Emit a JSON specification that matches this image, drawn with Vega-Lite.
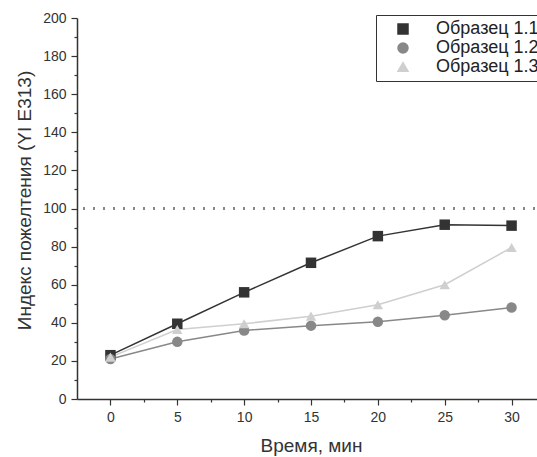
{
  "$schema": "https://vega.github.io/schema/vega-lite/v6.json",
  "width": 468,
  "height": 381,
  "autosize": "none",
  "padding": {"left": 77, "top": 18, "right": 0, "bottom": 58},
  "background": "white",
  "config": {
    "font": "Liberation Sans",
    "view": {"stroke": null},
    "axis": {
      "grid": false,
      "domainColor": "#333333",
      "domainWidth": 1.5,
      "tickColor": "#333333",
      "tickWidth": 1.2,
      "labelColor": "#333333",
      "labelFontSize": 14,
      "titleColor": "#333333",
      "titleFontSize": 19,
      "titleFontWeight": "normal"
    }
  },
  "data": {
    "values": [
      {"t": 0, "yi": 23, "series": "Образец 1.1"},
      {"t": 5, "yi": 39.5, "series": "Образец 1.1"},
      {"t": 10, "yi": 56, "series": "Образец 1.1"},
      {"t": 15, "yi": 71.5, "series": "Образец 1.1"},
      {"t": 20, "yi": 85.5, "series": "Образец 1.1"},
      {"t": 25, "yi": 91.5, "series": "Образец 1.1"},
      {"t": 30, "yi": 91, "series": "Образец 1.1"},
      {"t": 0, "yi": 21, "series": "Образец 1.2"},
      {"t": 5, "yi": 30, "series": "Образец 1.2"},
      {"t": 10, "yi": 36, "series": "Образец 1.2"},
      {"t": 15, "yi": 38.5, "series": "Образец 1.2"},
      {"t": 20, "yi": 40.5, "series": "Образец 1.2"},
      {"t": 25, "yi": 44, "series": "Образец 1.2"},
      {"t": 30, "yi": 48, "series": "Образец 1.2"},
      {"t": 0, "yi": 22, "series": "Образец 1.3"},
      {"t": 5, "yi": 36.5, "series": "Образец 1.3"},
      {"t": 10, "yi": 39.5, "series": "Образец 1.3"},
      {"t": 15, "yi": 43.5, "series": "Образец 1.3"},
      {"t": 20, "yi": 49.5, "series": "Образец 1.3"},
      {"t": 25, "yi": 60, "series": "Образец 1.3"},
      {"t": 30, "yi": 79.5, "series": "Образец 1.3"}
    ]
  },
  "layer": [
    {
      "mark": {"type": "rule", "strokeDash": [2, 8], "color": "#888888", "strokeWidth": 1.5},
      "encoding": {
        "y": {"datum": 100, "type": "quantitative", "scale": {"domain": [0, 200]}, "axis": null}
      }
    },
    {
      "mark": {"type": "line", "strokeWidth": 1.5},
      "encoding": {
        "x": {
          "field": "t", "type": "quantitative",
          "scale": {"domain": [-2.5, 32.5], "nice": false, "zero": false},
          "axis": {
            "orient": "bottom",
            "values": [0, 5, 10, 15, 20, 25, 30],
            "tickSize": 6,
            "labelPadding": 5,
            "title": "Время, мин",
            "titlePadding": 12
          }
        },
        "y": {
          "field": "yi", "type": "quantitative",
          "scale": {"domain": [0, 200], "nice": false},
          "axis": {
            "orient": "left",
            "values": [0, 20, 40, 60, 80, 100, 120, 140, 160, 180, 200],
            "tickSize": 6,
            "labelPadding": 5,
            "title": "Индекс пожелтения (YI E313)",
            "titlePadding": 8,
            "titleY": 182
          }
        },
        "color": {
          "field": "series", "type": "nominal",
          "scale": {"domain": ["Образец 1.1", "Образец 1.2", "Образец 1.3"], "range": ["#333333", "#888888", "#cfcfcf"]}
        },
        "detail": {"field": "series"}
      }
    },
    {
      "mark": {"type": "point", "filled": true, "opacity": 1, "size": 110},
      "encoding": {
        "x": {
          "field": "t", "type": "quantitative",
          "axis": {
            "orient": "bottom",
            "values": [2.5, 7.5, 12.5, 17.5, 22.5, 27.5],
            "tickSize": 3,
            "labels": false,
            "domain": false,
            "title": null
          }
        },
        "y": {
          "field": "yi", "type": "quantitative",
          "axis": {
            "orient": "left",
            "values": [10, 30, 50, 70, 90, 110, 130, 150, 170, 190],
            "tickSize": 3,
            "labels": false,
            "domain": false,
            "title": null
          }
        },
        "color": {
          "field": "series", "type": "nominal",
          "scale": {"domain": ["Образец 1.1", "Образец 1.2", "Образец 1.3"], "range": ["#333333", "#888888", "#cfcfcf"]},
          "legend": {
            "title": null,
            "orient": "none",
            "legendX": 299,
            "legendY": -3,
            "padding": 5,
            "symbolOffset": 13,
            "symbolSize": 100,
            "labelOffset": 24,
            "labelFontSize": 18,
            "labelColor": "#222222",
            "rowPadding": 1,
            "strokeColor": "#333333",
            "fillColor": "white",
            "labelLimit": 300
          }
        },
        "shape": {
          "field": "series", "type": "nominal",
          "scale": {"domain": ["Образец 1.1", "Образец 1.2", "Образец 1.3"], "range": ["square", "circle", "triangle-up"]},
          "legend": null
        }
      }
    }
  ],
  "resolve": {"axis": {"x": "independent", "y": "independent"}}
}
